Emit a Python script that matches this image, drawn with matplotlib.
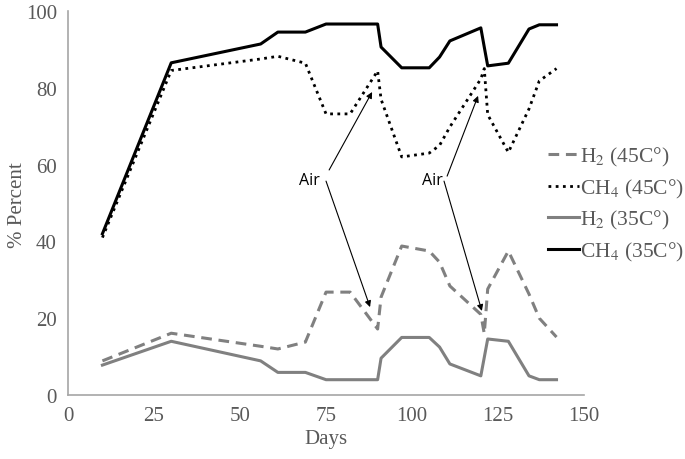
import matplotlib
matplotlib.use("Agg")
import matplotlib.pyplot as plt

days = [10, 30, 56, 61, 69, 75, 82, 90, 91, 97, 105, 108, 111, 120, 121, 122, 128, 134, 137, 142]

h2_45 = [8.9, 16.1, 12.7, 12.0, 13.8, 26.8, 26.8, 17.2, 25.5, 38.8, 37.5, 34.6, 28.4, 21.0, 16.0, 27.6, 37.5, 26.3, 20.0, 15.1]
ch4_45 = [41.0, 84.5, 87.5, 88.2, 86.4, 73.2, 73.2, 84.4, 77.0, 62.0, 63.0, 65.0, 69.8, 82.3, 85.0, 73.0, 63.2, 74.5, 81.8, 85.0]
h2_35 = [7.8, 14.0, 8.9, 5.9, 5.9, 4.0, 4.0, 4.0, 9.6, 15.0, 15.0, 12.5, 8.1, 5.0, 9.8, 14.6, 14.0, 5.0, 4.0, 4.0]
ch4_35 = [42.0, 86.5, 91.4, 94.5, 94.5, 96.6, 96.6, 96.6, 90.6, 85.2, 85.2, 88.0, 92.2, 95.6, 90.6, 85.7, 86.4, 95.3, 96.4, 96.4]

labels = ["H$_2$ (45C°)", "CH$_4$ (45C°)", "H$_2$ (35C°)", "CH$_4$ (35C°)"]

# (tip day, tip value, start day, start value)
arrows = [(88.4, 78.9, 75.9, 58.6), (87.8, 22.9, 75.0, 55.7),
          (119.2, 77.9, 110.2, 57.0), (120.3, 21.9, 109.3, 55.7)]
air_labels = [(70.3, 56.0), (105.8, 56.0)]

plt.rcParams["font.family"] = ["Liberation Serif", "DejaVu Serif"]
plt.rcParams["mathtext.fontset"] = "stix"
GREY_TXT = "#595959"
GREY_LINE = "#808080"

fig = plt.figure(figsize=(6.85, 4.6), dpi=100)
ax = fig.add_axes([0.0993, 0.139, 0.7533, 0.835])

ax.plot(days, h2_45, color=GREY_LINE, lw=2.2, ls=(0, (3.5, 2.2)), label=labels[0])
ax.plot(days, ch4_45, color="black", lw=2.0, ls=(0, (1, 1.6)), label=labels[1])
ax.plot(days, h2_35, color=GREY_LINE, lw=2.2, label=labels[2])
ax.plot(days, ch4_35, color="black", lw=2.2, label=labels[3])

for tx, ty, sx, sy in arrows:
    ax.annotate("", xy=(tx, ty), xytext=(sx, sy),
                arrowprops=dict(arrowstyle="-|>", color="black", lw=0.8,
                                shrinkA=0, shrinkB=0, mutation_scale=9))
for x, y in air_labels:
    ax.text(x, y, "Air", ha="center", va="center", fontsize=11.5,
            family=["Open Sans", "DejaVu Sans"], color="black")

ax.set_xlim(0, 150)
ax.set_ylim(0, 100)
ax.set_xticks([0, 25, 50, 75, 100, 125, 150])
ax.set_yticks([0, 20, 40, 60, 80, 100])
ax.tick_params(length=0, labelsize=15, labelcolor=GREY_TXT, pad=8)
for s in ["top", "right"]:
    ax.spines[s].set_visible(False)
for s in ["left", "bottom"]:
    ax.spines[s].set_color("#a6a6a6")
    ax.spines[s].set_linewidth(1.2)

fig.text(326 / 685, 1 - 440 / 460, "Days", ha="center", va="center", fontsize=15, color=GREY_TXT)
fig.text(17 / 685, 1 - 205 / 460, "% Percent", ha="center", va="center", fontsize=15,
         color=GREY_TXT, rotation=90)

leg = fig.legend(loc="center left", bbox_to_anchor=(548 / 685, 1 - 205 / 460),
                 frameon=False, fontsize=15.5, handlelength=1.45, handletextpad=0.05,
                 labelspacing=0.4, borderpad=0, borderaxespad=0)
for t in leg.get_texts():
    t.set_color(GREY_TXT)

fig.savefig("out.png", dpi=100)
